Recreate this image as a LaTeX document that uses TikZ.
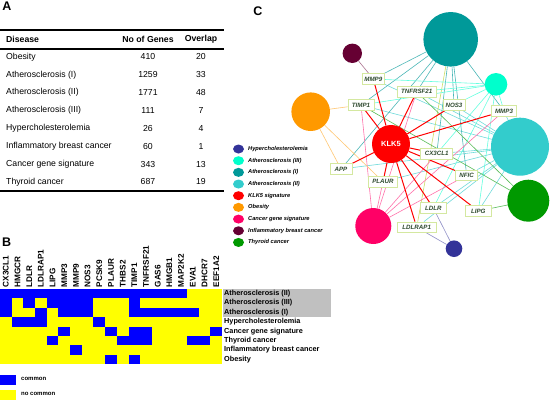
\documentclass[tikz,border=0pt]{standalone}
\usepackage{fontspec}
\setmainfont{Liberation Sans}
\usetikzlibrary{shapes.geometric,backgrounds}
\newcommand\myfs[1]{\fontsize{#1}{#1}\selectfont}
\definecolor{hyp}{HTML}{333399}
\definecolor{ath3}{HTML}{00FFCC}
\definecolor{ath1}{HTML}{009999}
\definecolor{ath2}{HTML}{33CCCC}
\definecolor{klk}{HTML}{FF0000}
\definecolor{obe}{HTML}{FF9900}
\definecolor{canc}{HTML}{FF0066}
\definecolor{infl}{HTML}{660033}
\definecolor{thy}{HTML}{009900}
\definecolor{hblue}{HTML}{0000FF}
\definecolor{hyel}{HTML}{FFFF00}
\definecolor{hgray}{HTML}{C0C0C0}
\definecolor{genebd}{HTML}{D4E8A0}
\definecolor{genetx}{HTML}{2F4A2F}
\definecolor{eyel}{HTML}{CCE066}
\tikzset{
  panel/.style={font=\bfseries\myfs{12.5}, inner sep=0pt},
  thead/.style={font=\bfseries\myfs{8.7}, inner sep=0pt},
  tcell/.style={font=\myfs{8.7}, inner sep=0pt},
  hlab/.style={font=\bfseries\myfs{7.3}, anchor=west, inner sep=0pt},
  glab/.style={font=\bfseries\myfs{8.2}, rotate=90, anchor=west, inner sep=0pt},
  leg/.style={font=\bfseries\itshape\myfs{5.7}, anchor=west, inner sep=0pt},
  legdot/.style={ellipse, minimum width=11pt, minimum height=9pt, inner sep=0pt},
  dis/.style={circle, inner sep=0pt, minimum size=#1},
  genebox/.style={draw=genebd, line width=0.9pt, fill=white, text=genetx,
     font=\bfseries\itshape\myfs{6.2}, inner sep=0pt, minimum height=10.5pt, minimum width=#1},
  ered/.style={draw=klk, line width=1pt},
  e/.style={draw=#1, line width=0.6pt},
}
\begin{document}
\begin{tikzpicture}[x=1pt,y=-1pt]
\useasboundingbox (0,0) rectangle (550,400);
% ---------------- Panel A
\node[panel] (pA) at (7,6) {A};
\draw[line width=2pt] (0,30) -- (224,30);
\draw[line width=1.4pt] (0,49) -- (224,49);
\draw[line width=2pt] (0,191) -- (224,191);
\node[thead, anchor=west] (hdis) at (6,39) {Disease};
\node[thead] (hno) at (148,39) {No of Genes};
\node[thead] (hov) at (201,39) {Overlap};
\foreach \n/\g/\o [count=\i from 0] in {Obesity/410/20, Atherosclerosis (I)/1259/33,
  Atherosclerosis (II)/1771/48, Atherosclerosis (III)/111/7, Hypercholesterolemia/26/4,
  Inflammatory breast cancer/60/1, Cancer gene signature/343/13, Thyroid cancer/687/19}{
  \node[tcell, anchor=west] (tn\i) at (6,{57+\i*17.85}) {\n};
  \node[tcell] (tg\i) at (148,{57+\i*17.85}) {\g};
  \node[tcell] (to\i) at (201,{57+\i*17.85}) {\o};
}
% ---------------- Panel B
\node[panel] (pB) at (6.7,241.7) {B};
\def\cw{11.684}\def\rh{9.375}
\fill[hyel] (0,289) rectangle (222,364);
\foreach \r/\a/\b in {0/0/16, 1/0/1, 1/2/3, 1/4/8, 1/11/12, 2/0/1, 2/3/4, 2/5/8, 2/11/17,
  3/1/4, 3/8/9, 4/5/6, 4/9/10, 4/11/13, 4/18/19, 5/4/5, 5/10/13, 5/16/18, 6/6/7, 7/9/10, 7/11/12}{
  \fill[hblue] ({\a*\cw},{289+\r*\rh}) rectangle ({\b*\cw},{289+(\r+1)*\rh});
}
\foreach \g [count=\i from 0] in {CX3CL1,HMGCR,LDLR,LDLRAP1,LIPG,MMP3,MMP9,NOS3,PCSK9,PLAUR,
  THBS2,TIMP1,TNFRSF21,GAS6,HMGB1,MAP2K2,EVA1,DHCR7,EEF1A2}{
  \node[glab] (gl\i) at ({(\i+0.5)*\cw},287.5) {\g};
}
\fill[hgray] (222.5,289) rectangle (331,317);
\foreach \n [count=\i from 0] in {Atherosclerosis (II),Atherosclerosis (III),Atherosclerosis (I),
  Hypercholesterolemia,Cancer gene signature,Thyroid cancer,Inflammatory breast cancer,Obesity}{
  \node[hlab] (hl\i) at (224,{289+(\i+0.5)*\rh}) {\n};
}
\fill[hblue] (0,375) rectangle (15.7,384.5);
\node[font=\bfseries\myfs{6}, anchor=west, inner sep=0pt] (lc) at (21,379) {common};
\fill[hyel] (0,389.5) rectangle (15.7,400);
\node[font=\bfseries\myfs{6}, anchor=west, inner sep=0pt] (lnc) at (21,394) {no common};
% ---------------- Panel C
\node[panel] (pC) at (258,11) {C};
\foreach \c/\t [count=\i from 0] in {hyp/Hypercholesterolemia, ath3/Atherosclerosis (III),
  ath1/Atherosclerosis (I), ath2/Atherosclerosis (II), klk/KLK5 signature, obe/Obesity,
  canc/Cancer gene signature, infl/Inflammatory breast cancer, thy/Thyroid cancer}{
  \node[legdot, fill=\c] (ld\i) at (238.5,{149+\i*11.68}) {};
  \node[leg] (lt\i) at (248,{149+\i*11.68}) {\t};
}
% disease circles
\node[dis=54.6pt, fill=ath1] (a1) at (450.7,39.3) {};
\node[dis=19.4pt, fill=infl] (inf) at (352.3,53.3) {};
\node[dis=22.6pt, fill=ath3] (a3) at (496,84.3) {};
\node[dis=38.6pt, fill=obe] (ob) at (310.7,111.7) {};
\node[dis=58pt, fill=ath2] (a2) at (520,146.7) {};
\node[dis=42pt, fill=thy] (th) at (528.3,200.7) {};
\node[dis=36pt, fill=canc] (ca) at (373.3,226) {};
\node[dis=16.6pt, fill=hyp] (hy) at (454,248.7) {};
\node[dis=38pt, fill=klk, text=white, font=\bfseries\myfs{7.5}] (kl) at (391,144) {KLK5};
% gene boxes
\node[genebox=21.7pt] (mmp9) at (373.3,79) {MMP9};
\node[genebox=38.7pt] (tnf) at (416.7,91.7) {TNFRSF21};
\node[genebox=26pt] (timp) at (361,105) {TIMP1};
\node[genebox=22pt] (nos) at (454,105) {NOS3};
\node[genebox=25.7pt] (mmp3) at (504,111) {MMP3};
\node[genebox=32pt] (cx3) at (436.7,153.7) {CX3CL1};
\node[genebox=22pt] (app) at (341,169) {APP};
\node[genebox=22pt] (nfic) at (466.7,175.3) {NFIC};
\node[genebox=28.7pt] (plaur) at (383,181.7) {PLAUR};
\node[genebox=25.7pt] (ldlr) at (433.3,208) {LDLR};
\node[genebox=26pt] (lipg) at (478.3,211) {LIPG};
\node[genebox=39pt] (ldlrap) at (416.7,227.3) {LDLRAP1};
\begin{pgfonlayer}{background}
  \fill[white] (0,0) rectangle (550,400);
  \foreach \g in {mmp9,tnf,timp,nos,mmp3,cx3,app,nfic,plaur,ldlr,lipg,ldlrap}{
    \draw[e=ath2!70!white] (a2) -- (\g);
  }
  \foreach \g in {mmp9,tnf,timp,nos,mmp3,cx3,app,nfic}{
    \draw[e=ath1!70!white] (a1) -- (\g);
  }
  \draw[e=eyel] (a1) -- (ldlrap);
  \foreach \g in {mmp9,tnf,timp,nos,mmp3,cx3,ldlr,lipg}{
    \draw[e=ath3!60!white] (a3) -- (\g);
  }
  \foreach \g in {timp,plaur,mmp3,tnf,nfic,cx3}{
    \draw[e=canc!55!white] (ca) -- (\g);
  }
  \foreach \g in {timp,app,plaur}{
    \draw[e=obe!55!white] (ob) -- (\g);
  }
  \foreach \g in {lipg,timp,tnf}{
    \draw[e=thy!65!white] (th) -- (\g);
  }
  \foreach \g in {ldlr,ldlrap}{
    \draw[e=hyp!55!white] (hy) -- (\g);
  }
  \draw[e=infl!55!white] (inf) -- (mmp9);
  \foreach \g in {mmp9,tnf,timp,nos,mmp3,cx3,app,nfic,plaur,ldlr,lipg,ldlrap}{
    \draw[ered] (kl) -- (\g);
  }
\end{pgfonlayer}
\end{tikzpicture}
\end{document}
